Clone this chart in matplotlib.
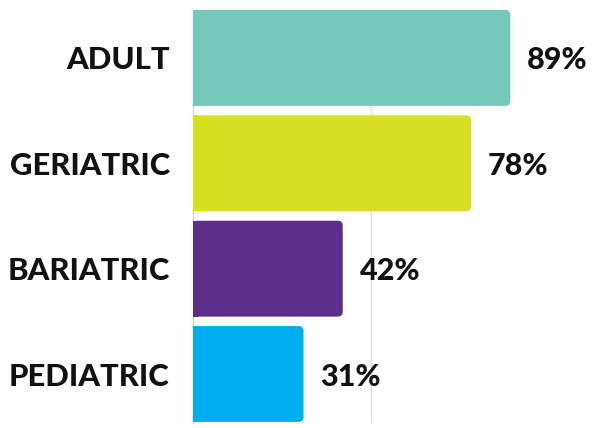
import matplotlib
matplotlib.use("Agg")
import matplotlib.pyplot as plt
from matplotlib.patches import FancyBboxPatch, Rectangle

# data
categories = ["ADULT", "GERIATRIC", "BARIATRIC", "PEDIATRIC"]
values = [89, 78, 42, 31]
value_labels = ["89%", "78%", "42%", "31%"]
colors = ["#75C9BC", "#D7DF23", "#5C2D8A", "#00AEEF"]

plt.rcParams['font.family'] = ['Lato', 'DejaVu Sans']

fig = plt.figure(figsize=(6, 4.28), dpi=100)
# axes: x 0..100 maps to pixel 193..549.5
ax = fig.add_axes([193 / 600, 1 - 423 / 428, 356.5 / 600, 413 / 428])
ax.set_xlim(0, 100)
bar_h = 0.91
ax.set_ylim(3.465, -0.455)

rx = 1.4        # corner radius in x units
ry = 0.0475     # corner radius in y units
for i, (v, c) in enumerate(zip(values, colors)):
    # rounded bar, then square off the left side
    p = FancyBboxPatch((0, i - bar_h / 2), v, bar_h,
                       boxstyle="round,pad=0,rounding_size=%.3f" % rx,
                       mutation_aspect=ry / rx, facecolor=c, edgecolor="none", zorder=3)
    ax.add_patch(p)
    ax.add_patch(Rectangle((0, i - bar_h / 2), rx * 1.2, bar_h,
                           facecolor=c, edgecolor="none", zorder=3))
    ax.text(v + 4.7, i, value_labels[i], ha="left", va="center_baseline",
            fontsize=22, fontweight="black", color="#111111")
    ax.text(-6.5, i, categories[i], ha="right", va="center_baseline",
            fontsize=22.3, fontweight="black", color="#111111")

# single gridline at 50%
ax.axvline(50, color="#dddddd", lw=1, zorder=1)
ax.axvline(0, color="#d0d0d0", lw=1.5, zorder=2)

ax.set_xticks([])
ax.set_yticks([])
for s in ax.spines.values():
    s.set_visible(False)

fig.savefig("out.png", dpi=100)
